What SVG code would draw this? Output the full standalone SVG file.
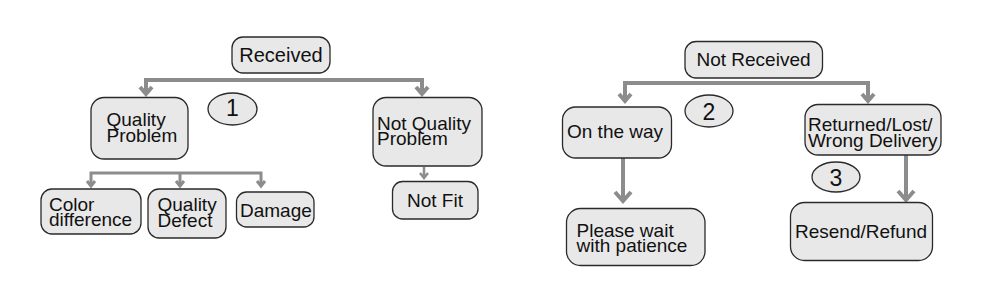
<svg xmlns="http://www.w3.org/2000/svg" width="1000" height="297" viewBox="0 0 1000 297">
<style>
.box{fill:#e8e8e8;stroke:#2a2a2a;stroke-width:1.3}
.t{font-family:"Liberation Sans",Arial,sans-serif;font-size:19px;fill:#111}
.c{text-anchor:middle}
.num{font-family:"Liberation Sans",Arial,sans-serif;font-size:23px;fill:#111;text-anchor:middle}
.ell{fill:#e8e8e8;stroke:#2a2a2a;stroke-width:1.3}
.ln{fill:none;stroke:#8c8c8c;stroke-linejoin:miter}
.w4{stroke-width:4}
.w3{stroke-width:3}
.w2{stroke-width:2.5}
</style>
<rect width="1000" height="297" fill="#ffffff"/>
<g id="connectors">
  <path class="ln w4" d="M146,93 V80 H422 V93"/>
  <path class="ln w4" d="M140,87 L146,94 L152,87 M416,87 L422,94 L428,87"/>
  <path class="ln w4" d="M625,100 V83 H868 V100"/>
  <path class="ln w4" d="M619,94 L625,101 L631,94 M862,94 L868,101 L874,94"/>
  <path class="ln w3" d="M91,185 V173 H261 V185 M180,173 V185"/>
  <path class="ln w3" d="M87,181 L91,186 L95,181 M176,181 L180,186 L184,181 M257,181 L261,186 L265,181"/>
  <path class="ln w2" d="M424,167 V177 M420,173 L424,178 L428,173"/>
  <path class="ln w4" d="M623,158 V200 M615,192 L623,201 L631,192"/>
  <path class="ln w4" d="M906,155 V199 M898,191 L906,200 L914,191"/>
</g>
<g id="received">
  <rect class="box" x="232" y="37" width="98" height="36" rx="11"/>
  <text class="t c" x="281" y="62" style="font-size:20px">Received</text>
</g>
<g id="quality-problem">
  <rect class="box" x="91" y="97.5" width="97" height="61.5" rx="13"/>
  <text class="t" x="106.5" y="126">Quality</text>
  <text class="t" x="106.5" y="141.5">Problem</text>
</g>
<g id="badge-1">
  <ellipse class="ell" cx="232.5" cy="109" rx="24.5" ry="16"/>
  <text class="num" x="232.5" y="115.5">1</text>
</g>
<g id="not-quality-problem">
  <rect class="box" x="373" y="97.5" width="109" height="68.5" rx="13"/>
  <text class="t" x="377" y="129.5">Not Quality</text>
  <text class="t" x="377" y="145">Problem</text>
</g>
<g id="color-difference">
  <rect class="box" x="41" y="189" width="100" height="45" rx="11"/>
  <text class="t" x="49" y="210.5">Color</text>
  <text class="t" x="49" y="226">difference</text>
</g>
<g id="quality-defect">
  <rect class="box" x="148" y="189" width="78" height="49" rx="11"/>
  <text class="t" x="157.5" y="210.5">Quality</text>
  <text class="t" x="157.5" y="226.5">Defect</text>
</g>
<g id="damage">
  <rect class="box" x="236.5" y="192" width="77.5" height="35" rx="10"/>
  <text class="t" x="240" y="217">Damage</text>
</g>
<g id="not-fit">
  <rect class="box" x="392.5" y="181.5" width="85.5" height="37.5" rx="10"/>
  <text class="t c" x="435" y="207">Not Fit</text>
</g>
<g id="not-received">
  <rect class="box" x="685" y="41.5" width="137.5" height="36.5" rx="11"/>
  <text class="t c" x="753.5" y="66">Not Received</text>
</g>
<g id="badge-2">
  <ellipse class="ell" cx="709" cy="111" rx="24" ry="16"/>
  <text class="num" x="709" y="119.5">2</text>
</g>
<g id="on-the-way">
  <rect class="box" x="562.5" y="107" width="109" height="51" rx="13"/>
  <text class="t" x="567" y="137.5">On the way</text>
</g>
<g id="returned-lost">
  <rect class="box" x="805" y="104.5" width="136" height="50.5" rx="13"/>
  <text class="t" x="808" y="131">Returned/Lost/</text>
  <text class="t" x="808" y="147">Wrong Delivery</text>
</g>
<g id="badge-3">
  <ellipse class="ell" cx="836" cy="177" rx="24" ry="15"/>
  <text class="num" x="836" y="186">3</text>
</g>
<g id="please-wait">
  <rect class="box" x="566.5" y="208.5" width="138.5" height="57" rx="14"/>
  <text class="t" x="576.5" y="236.5">Please wait</text>
  <text class="t" x="576.5" y="251.5">with patience</text>
</g>
<g id="resend-refund">
  <rect class="box" x="790.5" y="202.5" width="142" height="58" rx="14"/>
  <text class="t" x="795" y="238">Resend/Refund</text>
</g>
</svg>
